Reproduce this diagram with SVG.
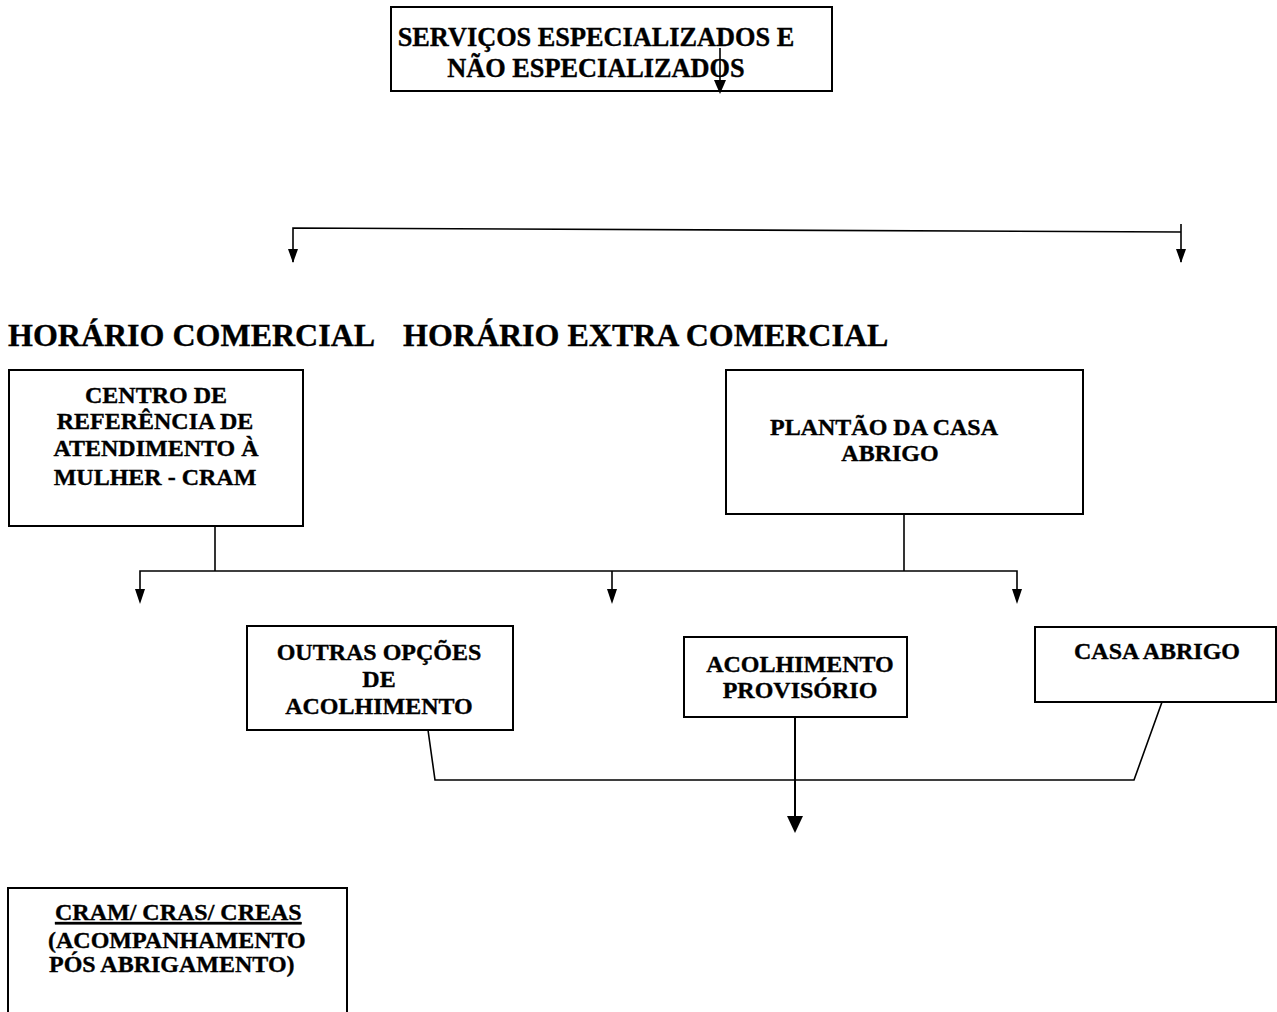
<svg xmlns="http://www.w3.org/2000/svg" width="1277" height="1012" viewBox="0 0 1277 1012">
<style>
.box{fill:#fff;stroke:#000;stroke-width:2}
.t{font-weight:bold;font-size:24px;fill:#000;stroke:#000;stroke-width:0.35}
.c{text-anchor:middle}
.h{font-size:32px}
.top{font-size:26.3px}
.ln{fill:none;stroke:#000;stroke-width:1.6}
.ah{fill:#000;stroke:none}
</style>
<rect width="1277" height="1012" fill="#fff"/>
<g font-family="'Liberation Serif', 'Times New Roman', Tinos, serif">
<g id="n-servicos">
<rect class="box" x="391" y="7" width="441" height="84"/>
<text class="t top c" x="596" y="46">SERVIÇOS ESPECIALIZADOS E</text>
<text class="t top c" x="596" y="77">NÃO ESPECIALIZADOS</text>
</g>
<g id="n-horario">
<text class="t h" x="8" y="346">HORÁRIO COMERCIAL</text>
<text class="t h" x="403" y="346">HORÁRIO EXTRA COMERCIAL</text>
</g>
<g id="n-cram">
<rect class="box" x="9" y="370" width="294" height="156"/>
<text class="t c" x="156" y="403">CENTRO DE</text>
<text class="t c" x="155" y="429">REFERÊNCIA DE</text>
<text class="t c" x="156" y="456">ATENDIMENTO À</text>
<text class="t c" x="155" y="485">MULHER - CRAM</text>
</g>
<g id="n-plantao">
<rect class="box" x="726" y="370" width="357" height="144"/>
<text class="t c" x="884" y="435">PLANTÃO DA CASA</text>
<text class="t c" x="890" y="461">ABRIGO</text>
</g>
<g id="n-outras">
<rect class="box" x="247" y="626" width="266" height="104"/>
<text class="t c" x="379" y="660">OUTRAS OPÇÕES</text>
<text class="t c" x="379" y="687">DE</text>
<text class="t c" x="379" y="714">ACOLHIMENTO</text>
</g>
<g id="n-acolhimento">
<rect class="box" x="684" y="637" width="223" height="80"/>
<text class="t c" x="800" y="672">ACOLHIMENTO</text>
<text class="t c" x="800" y="698">PROVISÓRIO</text>
</g>
<g id="n-casa">
<rect class="box" x="1035" y="627" width="241" height="75"/>
<text class="t c" x="1157" y="659">CASA ABRIGO</text>
</g>
<g id="n-cras">
<rect class="box" x="8" y="888" width="339" height="140"/>
<text class="t" x="55" y="920" text-decoration="underline">CRAM/ CRAS/ CREAS</text>
<text class="t" x="48" y="948">(ACOMPANHAMENTO</text>
<text class="t" x="49" y="972">PÓS ABRIGAMENTO)</text>
</g>
</g>
<g id="connectors">
<line class="ln" x1="720" y1="48" x2="720" y2="82"/>
<polygon class="ah" points="714,80 726,80 720,94"/>
<polyline class="ln" points="293,262 293,228 1181,232"/>
<line class="ln" x1="1181" y1="224" x2="1181" y2="262"/>
<polygon class="ah" points="288,249 298,249 293,263"/>
<polygon class="ah" points="1176,249 1186,249 1181,263"/>
<line class="ln" x1="215" y1="526" x2="215" y2="571"/>
<line class="ln" x1="904" y1="514" x2="904" y2="571"/>
<polyline class="ln" points="140,590 140,571 1017,571 1017,590"/>
<line class="ln" x1="612" y1="571" x2="612" y2="590"/>
<polygon class="ah" points="135,589 145,589 140,604"/>
<polygon class="ah" points="607,589 617,589 612,604"/>
<polygon class="ah" points="1012,589 1022,589 1017,604"/>
<polyline class="ln" points="428,730 435,780 1134,780 1162,702"/>
<line x1="795" y1="717" x2="795" y2="818" stroke="#000" stroke-width="2"/>
<polygon class="ah" points="787,816 803,816 795,833"/>
</g>
</svg>
